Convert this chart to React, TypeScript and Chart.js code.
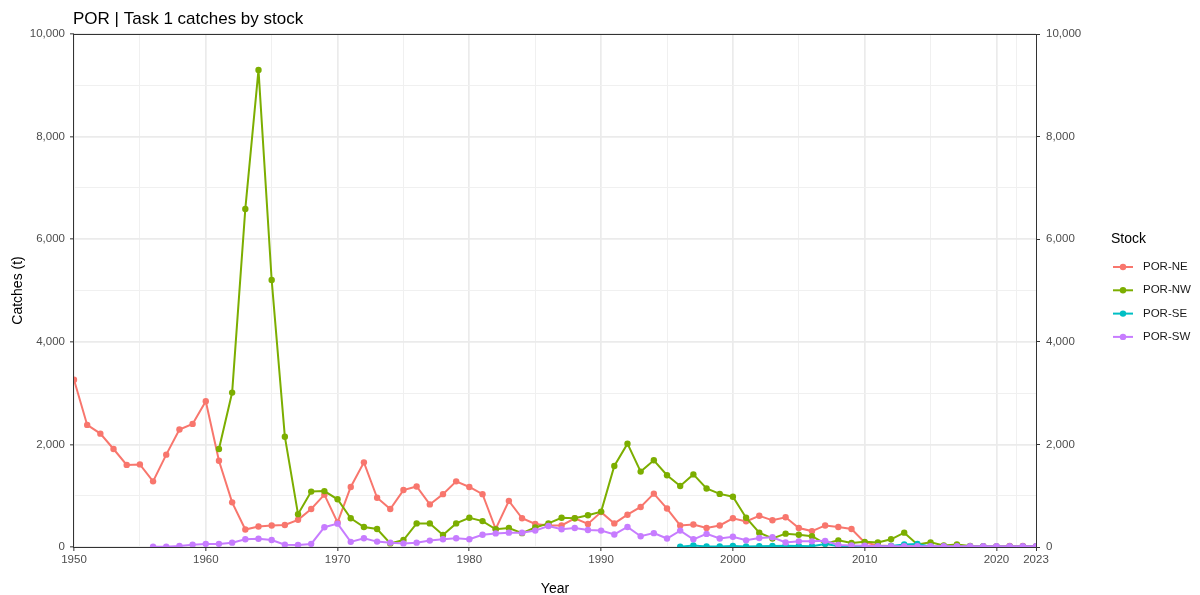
import React, { useEffect, useRef } from "react";
import { Chart, registerables } from "chart.js";

Chart.register(...registerables);

const FONT = '"Liberation Sans", Arial, Helvetica, sans-serif';

const years = [
  1950, 1951, 1952, 1953, 1954, 1955, 1956, 1957, 1958, 1959,
  1960, 1961, 1962, 1963, 1964, 1965, 1966, 1967, 1968, 1969,
  1970, 1971, 1972, 1973, 1974, 1975, 1976, 1977, 1978, 1979,
  1980, 1981, 1982, 1983, 1984, 1985, 1986, 1987, 1988, 1989,
  1990, 1991, 1992, 1993, 1994, 1995, 1996, 1997, 1998, 1999,
  2000, 2001, 2002, 2003, 2004, 2005, 2006, 2007, 2008, 2009,
  2010, 2011, 2012, 2013, 2014, 2015, 2016, 2017, 2018, 2019,
  2020, 2021, 2022, 2023,
];

const porNE = [
  3260, 2380, 2210, 1910, 1600, 1610, 1280, 1800, 2290, 2400,
  2840, 1680, 870, 340, 400, 420, 430, 530, 740, 1020,
  480, 1170, 1650, 960, 740, 1110, 1180, 830, 1030, 1280,
  1170, 1030, 350, 900, 560, 450, 420, 420, 560, 450,
  680, 460, 630, 780, 1040, 750, 420, 440, 370, 420,
  560, 500, 610, 520, 580, 370, 310, 420, 390, 350,
  90, 30, 20, 15, 15, 10, 10, 10, 10, 10,
  10, 20, 20, 10,
];

const porNW = [
  null, null, null, null, null, null, null, null, null, null,
  null, 1910, 3010, 6590, 9300, 5205, 2150, 640, 1080, 1090,
  930, 560, 390, 350, 70, 135, 460, 460, 235, 460,
  570, 505, 345, 370, 270, 380, 460, 570, 560, 620,
  690, 1580, 2015, 1470, 1690, 1400, 1190, 1415, 1140, 1035,
  980, 570, 280, 165, 260, 240, 210, 65, 130, 80,
  100, 90, 150, 280, 50, 90, 30, 50, 20, 15,
  10, 10, 10, 10,
];

const porSE = [
  null, null, null, null, null, null, null, null, null, null,
  null, null, null, null, null, null, null, null, null, null,
  null, null, null, null, null, null, null, null, null, null,
  null, null, null, null, null, null, null, null, null, null,
  null, null, null, null, null, null, 5, 30, 10, 10,
  20, 10, 15, 20, 25, 20, 15, 60, 20, 15,
  15, 10, 20, 50, 60, 10, 5, 5, 5, 5,
  5, 5, 5, 5,
];

const porSW = [
  null, null, null, null, null, null, 5, 5, 20, 45,
  60, 60, 85, 150, 160, 135, 45, 40, 60, 385,
  455, 100, 170, 105, 85, 70, 85, 125, 150, 170,
  150, 240, 265, 280, 280, 320, 410, 345, 370, 330,
  320, 245, 390, 210, 270, 165, 320, 150, 255, 165,
  200, 130, 175, 190, 90, 110, 110, 120, 40, 30,
  25, 15, 15, 15, 15, 15, 15, 15, 15, 15,
  15, 15, 15, 15,
];

const stockNames = ["POR-NE", "POR-NW", "POR-SE", "POR-SW"];
const stockColors = ["#F8766D", "#7CAE00", "#00BFC4", "#C77CFF"];
const stockSeries = [porNE, porNW, porSE, porSW];

const xTickValues = [1950, 1955, 1960, 1965, 1970, 1975, 1980, 1985, 1990, 1995, 2000, 2005, 2010, 2015, 2020, 2021.5, 2023];
const xLabelValues = [1950, 1960, 1970, 1980, 1990, 2000, 2010, 2020, 2023];
const yTickValues = [0, 1000, 2000, 3000, 4000, 5000, 6000, 7000, 8000, 9000, 10000];
const yLabelValues = [0, 2000, 4000, 6000, 8000, 10000];

const titleText = "POR | Task 1 catches by stock";
const xTitle = "Year";
const yTitle = "Catches (t)";
const legendTitle = "Stock";

const fmt = (v: number) => v.toLocaleString("en-US");

const decorPlugin = {
  id: "decor",
  afterDatasetsDraw(chart: any) {
    const { ctx, chartArea: a } = chart;
    ctx.save();
    ctx.strokeStyle = "#333333";
    ctx.lineWidth = 1;
    const l = Math.round(a.left) - 0.5;
    const t = Math.round(a.top) + 0.5;
    const r = Math.round(a.right) + 0.5;
    const b = Math.round(a.bottom) + 0.5;
    ctx.strokeRect(l, t, r - l, b - t);
    ctx.restore();
  },
  afterDraw(chart: any) {
    const { ctx, chartArea: a } = chart;
    ctx.save();
    ctx.fillStyle = "#000000";
    ctx.font = `17px ${FONT}`;
    ctx.textAlign = "left";
    ctx.textBaseline = "alphabetic";
    ctx.fillText(titleText, a.left - 1, 24);
    ctx.font = `14px ${FONT}`;
    ctx.textAlign = "center";
    ctx.textBaseline = "middle";
    ctx.fillText(xTitle, (a.left + a.right) / 2, 589);
    ctx.save();
    ctx.translate(18, (a.top + a.bottom) / 2);
    ctx.rotate(-Math.PI / 2);
    ctx.fillText(yTitle, 0, 0);
    ctx.restore();
    ctx.textAlign = "left";
    ctx.font = `14px ${FONT}`;
    ctx.fillText(legendTitle, 1111, 239);
    ctx.font = `11.5px ${FONT}`;
    stockNames.forEach((name, i) => {
      const y = 267 + i * 23.3;
      ctx.strokeStyle = stockColors[i];
      ctx.lineWidth = 2;
      ctx.beginPath();
      ctx.moveTo(1113, y);
      ctx.lineTo(1133, y);
      ctx.stroke();
      ctx.fillStyle = stockColors[i];
      ctx.beginPath();
      ctx.arc(1123, y, 3.2, 0, Math.PI * 2);
      ctx.fill();
      ctx.fillStyle = "#1A1A1A";
      ctx.fillText(name, 1143, y);
    });
    ctx.restore();
  },
};

export default function App() {
  const ref = useRef<HTMLCanvasElement>(null);

  useEffect(() => {
    if (!ref.current) return;
    const datasets = stockNames.map((name, i) => ({
      label: name,
      data: years.map((yr, j) => ({ x: yr, y: stockSeries[i][j] })),
      borderColor: stockColors[i],
      backgroundColor: stockColors[i],
      borderWidth: 2,
      pointRadius: 3.2,
      pointBorderWidth: 0,
      pointBackgroundColor: stockColors[i],
      tension: 0,
      spanGaps: false,
      clip: 0,
      order: 3 - i,
    }));

    const tickFont = { family: FONT, size: 11.5 };
    const isMajorY = (v: number) => v % 2000 === 0;

    const chart = new Chart(ref.current, {
      type: "line",
      data: { datasets },
      plugins: [decorPlugin],
      options: {
        animation: false,
        responsive: false,
        devicePixelRatio: 1,
        layout: { padding: { top: 34, left: 0, right: 104, bottom: 0 } },
        plugins: {
          legend: { display: false },
          tooltip: { enabled: false },
          title: { display: false },
        },
        scales: {
          x: {
            type: "linear",
            min: 1950,
            max: 2023,
            afterBuildTicks: (s: any) => {
              s.ticks = xTickValues.map((v) => ({ value: v }));
            },
            afterFit: (s: any) => {
              s.height = 48;
            },
            ticks: {
              autoSkip: false,
              maxRotation: 0,
              padding: 2,
              color: "#4D4D4D",
              font: tickFont,
              callback: (v: any) => (xLabelValues.includes(Number(v)) ? String(v) : ""),
            },
            grid: {
              color: (c: any) => (c.tick && c.tick.value % 10 === 0 ? "#EBEBEB" : "#F0F0F0"),
              lineWidth: (c: any) => (c.tick && c.tick.value % 10 === 0 ? 1.7 : 1),
              tickColor: (c: any) => (c.tick && xLabelValues.includes(c.tick.value) ? "#333333" : "rgba(0,0,0,0)"),
              tickWidth: 1,
              tickLength: 4,
              drawTicks: true,
            },
            border: { display: false },
          },
          y: {
            type: "linear",
            position: "left",
            min: 0,
            max: 10000,
            afterBuildTicks: (s: any) => {
              s.ticks = yTickValues.map((v) => ({ value: v }));
            },
            afterFit: (s: any) => {
              s.width = 74;
            },
            ticks: {
              autoSkip: false,
              padding: 5,
              color: "#4D4D4D",
              font: tickFont,
              callback: (v: any) => (yLabelValues.includes(Number(v)) ? fmt(Number(v)) : ""),
            },
            grid: {
              color: (c: any) => (c.tick && isMajorY(c.tick.value) ? "#EBEBEB" : "#F0F0F0"),
              lineWidth: (c: any) => (c.tick && isMajorY(c.tick.value) ? 1.7 : 1),
              tickColor: (c: any) => (c.tick && isMajorY(c.tick.value) ? "#333333" : "rgba(0,0,0,0)"),
              tickWidth: 1,
              tickLength: 4,
            },
            border: { display: false },
          },
          y2: {
            type: "linear",
            position: "right",
            min: 0,
            max: 10000,
            afterBuildTicks: (s: any) => {
              s.ticks = yTickValues.map((v) => ({ value: v }));
            },
            afterFit: (s: any) => {
              s.width = 60;
            },
            ticks: {
              autoSkip: false,
              padding: 6,
              color: "#4D4D4D",
              font: tickFont,
              callback: (v: any) => (yLabelValues.includes(Number(v)) ? fmt(Number(v)) : ""),
            },
            grid: {
              drawOnChartArea: false,
              tickColor: (c: any) => (c.tick && isMajorY(c.tick.value) ? "#333333" : "rgba(0,0,0,0)"),
              tickWidth: 1,
              tickLength: 4,
            },
            border: { display: false },
          },
        },
      } as any,
    });
    return () => chart.destroy();
  }, []);

  return (
    <div style={{ position: "absolute", left: 0, top: 0, width: 1200, height: 595, background: "#FFFFFF" }}>
      <canvas ref={ref} width={1200} height={595} style={{ display: "block" }} />
    </div>
  );
}
